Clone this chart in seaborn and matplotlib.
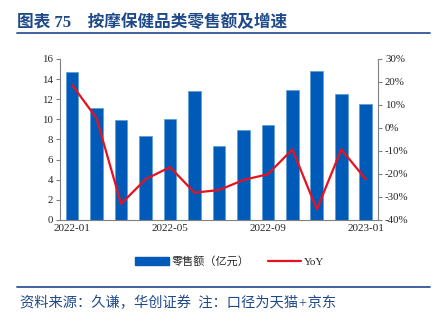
import numpy as np
import pandas as pd
import matplotlib
matplotlib.use("Agg")
import matplotlib.pyplot as plt
from matplotlib.patches import Patch
from matplotlib.lines import Line2D
import seaborn as sns

months = ["2022-01", "2022-02", "2022-03", "2022-04", "2022-05", "2022-06", "2022-07",
          "2022-08", "2022-09", "2022-10", "2022-11", "2022-12", "2023-01"]
sales = [14.7, 11.1, 9.9, 8.3, 10.0, 12.8, 7.4, 8.9, 9.4, 12.9, 14.8, 12.5, 11.5]
yoy = [18.7, 4.2, -33.0, -22.3, -17.0, -28.1, -27.0, -22.6, -20.1, -9.3, -35.4, -9.3, -22.3]
xtick_labels = ["2022-01", "2022-05", "2022-09", "2023-01"]
left_ticks = [0, 2, 4, 6, 8, 10, 12, 14, 16]
right_ticks = [-40, -30, -20, -10, 0, 10, 20, 30]

title_text = "图表 75    按摩保健品类零售额及增速"
footer_text = "资料来源：久谦，华创证券  注：口径为天猫+京东"
bar_label = "零售额（亿元）"
line_label = "YoY"

sns.set_style("white")
plt.rcParams["font.family"] = ["Liberation Serif", "Noto Sans CJK SC", "DejaVu Sans"]

BAR = "#005BB8"
RED = "#E8121F"
BLUE_T = "#1F4A8A"

df = pd.DataFrame({"month": months, "sales": sales, "yoy": yoy, "idx": np.arange(len(months))})

fig = plt.figure(figsize=(4.34, 3.24), dpi=100)
ax = fig.add_axes([0.138, 0.321, 0.733, 0.497])
sns.barplot(data=df, x="month", y="sales", color=BAR, width=0.52, saturation=1,
            edgecolor="#5B9BD5", linewidth=0.5, ax=ax)
ax.set_xlim(-0.5, len(months) - 0.5)
ax.set_ylim(0, 16)
ax.set_yticks(left_ticks)
ax.set_yticklabels([str(t) for t in left_ticks])
ax.set_xlabel("")
ax.set_ylabel("")

ax2 = ax.twinx()
sns.lineplot(data=df, x="idx", y="yoy", color=RED, linewidth=1.6, ax=ax2, legend=False)
ax2.set_ylim(-40, 30)
ax2.set_yticks(right_ticks)
ax2.set_yticklabels([f"{t}%" for t in right_ticks])
ax2.set_ylabel("")
ax2.set_xlabel("")
ax2.set_xlim(-0.5, len(months) - 0.5)

pos = [months.index(m) for m in xtick_labels]
ax.set_xticks(pos)
ax.set_xticklabels(xtick_labels)
ax.set_xticks([-0.5, 3.5, 7.5, 11.5], minor=True)
ax.tick_params(axis="x", which="major", length=0, labelsize=8, pad=3)
ax.tick_params(axis="x", which="minor", length=3, direction="out", color="#808080", width=0.8)
ax.tick_params(axis="y", length=3, direction="out", color="#808080", width=0.8, labelsize=7.8, pad=2, left=True)
ax2.tick_params(axis="y", length=3, direction="out", color="#808080", width=0.8, labelsize=7.8, pad=2, right=True)

for a in (ax, ax2):
    a.spines["top"].set_visible(False)
    for s in ("left", "right", "bottom"):
        a.spines[s].set_color("#808080")
        a.spines[s].set_linewidth(0.8)
ax2.spines["bottom"].set_visible(False)
ax2.spines["left"].set_visible(False)
ax.spines["right"].set_visible(False)

handles = [Patch(facecolor=BAR, edgecolor=BAR), Line2D([0], [0], color=RED, linewidth=1.6)]
fig.legend(handles, [bar_label, line_label], loc="center", bbox_to_anchor=(0.53, 0.194),
           ncol=2, frameon=False, fontsize=8, handlelength=3.0, columnspacing=1.6,
           handletextpad=0.3)

fig.text(0.04, 0.93, title_text, fontsize=12, fontweight="bold", color=BLUE_T,
         ha="left", va="center")
fig.add_artist(Line2D([0.04, 0.99], [0.898, 0.898], color="#2F5597", linewidth=1.3,
                      transform=fig.transFigure))
fig.add_artist(Line2D([0.04, 0.99], [0.114, 0.114], color="#2F5597", linewidth=1.3,
                      transform=fig.transFigure))
fig.text(0.045, 0.064, footer_text, fontsize=10.3, color=BLUE_T, ha="left", va="center",
         style="italic")

fig.savefig("out.png", dpi=100)
